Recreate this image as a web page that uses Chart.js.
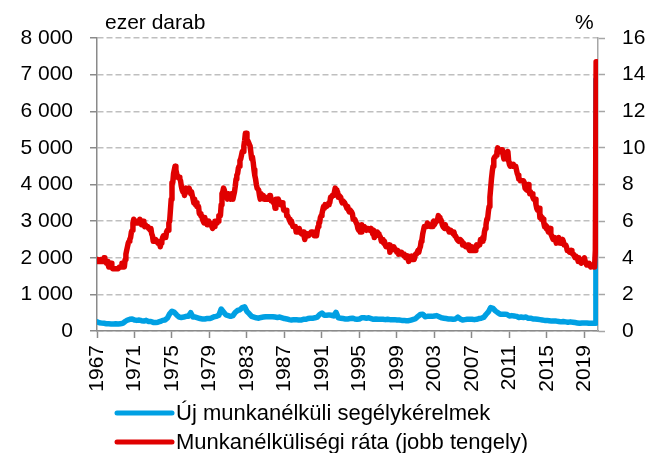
<!DOCTYPE html>
<html>
<head>
<meta charset="utf-8">
<script src="https://cdn.jsdelivr.net/npm/chart.js@4"></script>
<style>
  html, body { margin: 0; padding: 0; background: #fff; }
</style>
</head>
<body>
<canvas id="chart" width="649" height="453"></canvas>
<script>
// labels
const claimsLabel = 'Új munkanélküli segélykérelmek';
const rateLabel = 'Munkanélküliségi ráta (jobb tengely)';
const leftTitle = 'ezer darab';
const rightTitle = '%';
const xTickYears = [1967, 1971, 1975, 1979, 1983, 1987, 1991, 1995, 1999, 2003, 2007, 2011, 2015, 2019];

// unemployment rate, %, monthly from Jan 1967
const rate = [
  3.9,3.8,3.8,3.8,3.8,3.9,3.8,3.8,3.8,4.0,3.9,3.8,
  3.7,3.8,3.7,3.5,3.5,3.7,3.7,3.5,3.4,3.4,3.4,3.4,
  3.4,3.4,3.4,3.4,3.4,3.5,3.5,3.5,3.7,3.7,3.5,3.5,
  3.9,4.2,4.4,4.6,4.8,4.9,5.0,5.1,5.4,5.5,5.9,6.1,
  5.9,5.9,6.0,5.9,5.9,5.9,6.0,6.1,6.0,5.8,6.0,6.0,
  5.8,5.7,5.8,5.7,5.7,5.7,5.6,5.6,5.5,5.6,5.3,5.2,
  4.9,5.0,4.9,5.0,4.9,4.9,4.8,4.8,4.8,4.6,4.8,4.9,
  5.1,5.2,5.1,5.1,5.1,5.4,5.5,5.5,5.9,6.0,6.6,7.2,
  8.1,8.1,8.6,8.8,9.0,8.8,8.6,8.4,8.4,8.4,8.3,8.2,
  7.9,7.7,7.6,7.7,7.4,7.6,7.8,7.8,7.6,7.7,7.8,7.8,
  7.5,7.6,7.4,7.2,7.0,7.2,6.9,7.0,6.8,6.8,6.8,6.4,
  6.4,6.3,6.3,6.1,6.0,5.9,6.2,5.9,6.0,5.8,5.9,6.0,
  5.9,5.9,5.8,5.8,5.6,5.7,5.7,6.0,5.9,6.0,5.9,6.0,
  6.3,6.3,6.3,6.9,7.5,7.6,7.8,7.7,7.5,7.5,7.5,7.2,
  7.5,7.4,7.4,7.2,7.5,7.5,7.2,7.4,7.6,7.9,8.3,8.5,
  8.6,8.9,9.0,9.3,9.4,9.6,9.8,9.8,10.1,10.4,10.8,10.8,
  10.4,10.4,10.3,10.2,10.1,10.1,9.4,9.5,9.2,8.8,8.5,8.3,
  8.0,7.8,7.8,7.7,7.4,7.2,7.5,7.5,7.3,7.4,7.2,7.3,
  7.3,7.2,7.2,7.3,7.2,7.4,7.4,7.1,7.1,7.1,7.0,7.0,
  6.7,7.2,7.2,7.1,7.2,7.2,7.0,6.9,7.0,7.0,6.9,6.6,
  6.6,6.6,6.6,6.3,6.3,6.2,6.1,6.0,5.9,6.0,5.8,5.7,
  5.7,5.7,5.7,5.4,5.6,5.4,5.4,5.6,5.4,5.4,5.3,5.3,
  5.4,5.2,5.0,5.2,5.2,5.3,5.2,5.2,5.3,5.3,5.4,5.4,
  5.4,5.3,5.2,5.4,5.4,5.2,5.5,5.7,5.9,5.9,6.2,6.3,
  6.4,6.6,6.8,6.7,6.9,6.9,6.8,6.9,6.9,7.0,7.0,7.3,
  7.3,7.4,7.4,7.4,7.6,7.8,7.7,7.6,7.6,7.3,7.4,7.4,
  7.3,7.1,7.0,7.1,7.1,7.0,6.9,6.8,6.7,6.8,6.6,6.5,
  6.6,6.6,6.5,6.4,6.1,6.1,6.1,6.0,5.9,5.8,5.6,5.5,
  5.6,5.4,5.4,5.8,5.6,5.6,5.7,5.7,5.6,5.5,5.6,5.6,
  5.6,5.5,5.5,5.6,5.6,5.3,5.5,5.1,5.2,5.2,5.4,5.4,
  5.3,5.2,5.2,5.1,4.9,5.0,4.9,4.8,4.9,4.7,4.6,4.7,
  4.6,4.6,4.7,4.3,4.4,4.5,4.5,4.5,4.6,4.5,4.4,4.4,
  4.3,4.4,4.2,4.3,4.2,4.3,4.3,4.2,4.2,4.1,4.1,4.0,
  4.0,4.1,4.0,3.8,4.0,4.0,4.0,4.1,3.9,3.9,3.9,3.9,
  4.2,4.2,4.3,4.4,4.3,4.5,4.6,4.9,5.0,5.3,5.5,5.7,
  5.7,5.7,5.7,5.9,5.8,5.8,5.8,5.7,5.7,5.7,5.9,6.0,
  5.8,5.9,5.9,6.0,6.1,6.3,6.2,6.1,6.1,6.0,5.8,5.7,
  5.7,5.6,5.8,5.6,5.6,5.6,5.5,5.4,5.4,5.5,5.4,5.4,
  5.3,5.4,5.2,5.2,5.1,5.0,5.0,4.9,5.0,5.0,5.0,4.9,
  4.7,4.8,4.7,4.7,4.6,4.6,4.7,4.7,4.5,4.4,4.5,4.4,
  4.6,4.5,4.4,4.5,4.4,4.6,4.7,4.6,4.7,4.7,4.7,5.0,
  5.0,4.9,5.1,5.0,5.4,5.6,5.8,6.1,6.1,6.5,6.8,7.3,
  7.8,8.3,8.7,9.0,9.4,9.5,9.5,9.6,9.8,10.0,9.9,9.9,
  9.8,9.8,9.9,9.9,9.6,9.4,9.4,9.5,9.5,9.4,9.8,9.3,
  9.1,9.0,9.0,9.1,9.0,9.1,9.0,9.0,9.0,8.8,8.6,8.5,
  8.3,8.3,8.2,8.2,8.2,8.2,8.2,8.1,7.8,7.8,7.7,7.9,
  8.0,7.7,7.5,7.6,7.5,7.5,7.3,7.2,7.2,7.2,6.9,6.7,
  6.6,6.7,6.7,6.2,6.3,6.1,6.2,6.1,5.9,5.7,5.8,5.6,
  5.7,5.5,5.4,5.4,5.6,5.3,5.2,5.1,5.0,5.0,5.1,5.0,
  4.8,4.9,5.0,5.1,4.8,4.9,4.8,4.9,5.0,4.9,4.7,4.7,
  4.7,4.6,4.4,4.4,4.4,4.3,4.3,4.4,4.3,4.2,4.2,4.1,
  4.0,4.1,4.0,4.0,3.8,4.0,3.8,3.8,3.7,3.8,3.8,3.9,
  4.0,3.8,3.8,3.6,3.6,3.6,3.7,3.7,3.5,3.6,3.6,3.6,
  3.5,3.5,4.4,14.7,13.3
];

// initial claims, thousand, quarterly from 1967 Q1 to 2020 Q1
const claimsQuarterly = [
  250,225,215,210,  200,195,190,190,  195,190,200,210,  260,300,320,330,
  300,290,300,280,  270,290,260,260,  235,230,240,260,  290,300,350,470,
  540,510,440,380,  370,380,400,400,  500,380,380,360,  340,330,330,340,
  340,360,390,400,  430,600,520,440,  420,400,420,510,  560,580,640,660,
  530,470,400,380,  360,350,370,380,  390,390,390,390,  380,370,380,360,
  340,330,310,300,  310,310,300,300,  320,320,340,350,  350,360,380,450,
  490,430,430,440,  430,410,510,360,  350,340,330,330,  340,350,330,320,
  330,360,360,350,  360,340,320,330,  320,320,320,310,  320,310,310,310,
  300,300,290,290,  280,280,300,320,  340,400,450,460,  390,400,400,400,
  410,420,390,360,  350,340,330,330,  320,330,380,330,  300,310,320,320,
  320,310,320,340,  350,370,450,520,  640,620,550,500,  460,460,460,450,
  410,420,410,400,  370,380,370,380,  350,350,330,330,  320,310,300,290,
  290,280,270,270,  270,260,250,260,  250,240,250,240,  230,220,210,220,
  220,220,210,215,  210
];

// weekly claims, spring 2020
const claimsTailDates = [2020.197, 2020.216, 2020.235, 2020.254, 2020.273, 2020.293, 2020.312,
  2020.331, 2020.350, 2020.369, 2020.388, 2020.408, 2020.427, 2020.446];
const claimsTail = [211, 3307, 6867, 6615, 5237, 4442, 3867, 3176, 2687, 2446, 2126, 1897, 1566, 1540];

const FONT = "'Liberation Sans', Arial, sans-serif";
const AXIS = '#8a8a8a';

const ratePoints = rate.map((v, i) => ({ x: 1967 + i / 12, y: v }));
const claimPoints = claimsQuarterly.map((v, i) => ({ x: 1967 + i / 4, y: v }))
  .concat(claimsTail.map((v, i) => ({ x: claimsTailDates[i], y: v })));

function huNum(v) {
  return String(v).replace(/\B(?=(\d{3})+(?!\d))/g, ' ');
}

// titles above the axes + legend under the chart
const extras = {
  id: 'extras',
  afterDraw(chart) {
    const ctx = chart.ctx;
    ctx.save();
    ctx.fillStyle = '#000';
    ctx.textBaseline = 'middle';
    ctx.font = '21px ' + FONT;
    ctx.fillText(leftTitle, 105, 23);
    ctx.fillText(rightTitle, 575, 23);
    ctx.font = '22px ' + FONT;
    chart.data.datasets.forEach((ds, i) => {
      const y = 413 + i * 29;
      ctx.strokeStyle = ds.borderColor;
      ctx.lineWidth = 5;
      ctx.lineCap = 'round';
      ctx.beginPath();
      ctx.moveTo(117, y);
      ctx.lineTo(172, y);
      ctx.stroke();
      ctx.fillText(ds.label, 176, y + 1);
    });
    ctx.restore();
  }
};

Chart.defaults.font.family = FONT;
Chart.defaults.font.size = 21;
Chart.defaults.color = '#000';

new Chart(document.getElementById('chart'), {
  type: 'line',
  data: {
    datasets: [
      { label: claimsLabel, data: claimPoints, yAxisID: 'y', borderColor: '#00a0e3',
        backgroundColor: '#00a0e3', borderWidth: 5.5, order: 2 },
      { label: rateLabel, data: ratePoints, yAxisID: 'y2', borderColor: '#e00000',
        backgroundColor: '#e00000', borderWidth: 5.5, order: 1 }
    ]
  },
  options: {
    responsive: false,
    animation: false,
    events: [],
    elements: {
      point: { radius: 0 },
      line: { tension: 0, borderJoinStyle: 'round', borderCapStyle: 'round' }
    },
    layout: { padding: { top: 38, bottom: 58, left: 0, right: 0 } },
    plugins: { legend: { display: false }, tooltip: { enabled: false } },
    scales: {
      x: {
        type: 'linear',
        min: 1967,
        max: 2020.45,
        afterBuildTicks: s => { s.ticks = xTickYears.map(v => ({ value: v })); },
        afterFit: s => { s.height = 64; },
        ticks: { autoSkip: false, minRotation: 90, maxRotation: 90, padding: 7, callback: v => String(v) },
        grid: { drawOnChartArea: false, tickLength: 7, tickColor: AXIS, tickWidth: 1.5 },
        border: { color: AXIS, width: 1.5 }
      },
      y: {
        position: 'left',
        min: 0,
        max: 8000,
        afterFit: s => { s.width = 97; },
        ticks: { stepSize: 1000, padding: 17, callback: v => huNum(v) },
        grid: { color: '#bfbfbf', lineWidth: 1.5, tickLength: 7, tickColor: AXIS, tickWidth: 1.5 },
        border: { color: AXIS, width: 1.5, dash: [6, 3] }
      },
      y2: {
        position: 'right',
        min: 0,
        max: 16,
        afterFit: s => { s.width = 51; },
        ticks: { stepSize: 2, padding: 17 },
        grid: { drawOnChartArea: false, tickLength: 7, tickColor: '#a6a6a6', tickWidth: 1.5 },
        border: { color: '#a6a6a6', width: 1.5 }
      }
    }
  },
  plugins: [extras]
});
</script>
</body>
</html>
